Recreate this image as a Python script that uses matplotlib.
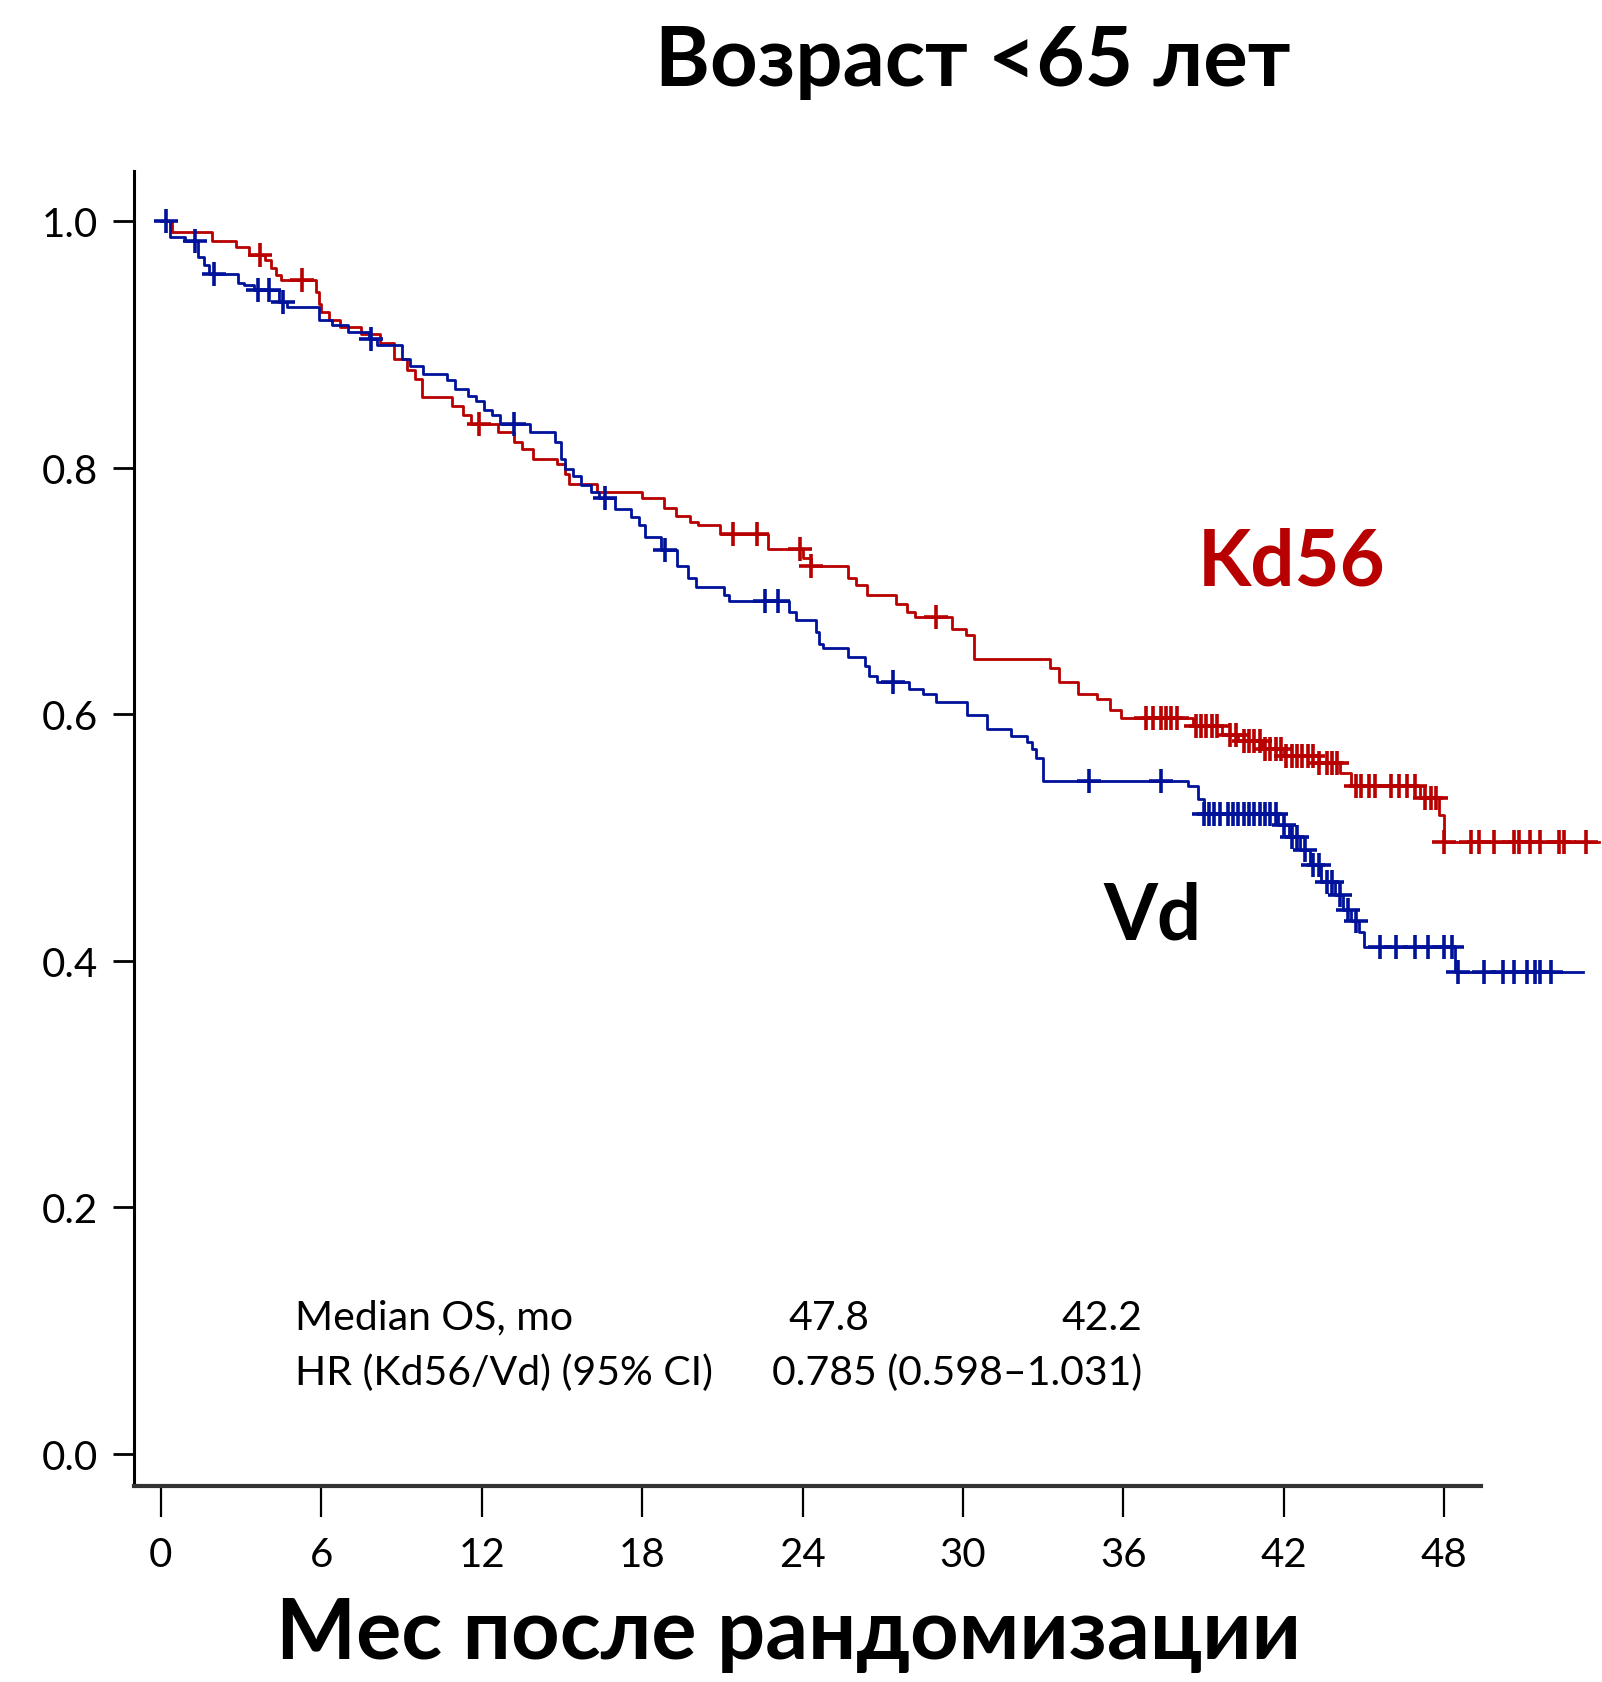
import numpy as np
import matplotlib
matplotlib.use("Agg")
import matplotlib.pyplot as plt

# ========== Data ==========
# Kd56 arm: step times (months) and survival after each step
kd_time = [0, 0.4, 1.9, 2.8, 3.3, 3.9, 4.1, 4.3, 4.5, 5.8, 5.9, 6.0, 6.3, 6.7, 7.5,
           8.2, 8.7, 9.2, 9.5, 9.75, 10.9, 11.3, 11.6, 12.6, 13.2, 13.5, 13.9, 14.8,
           15.1, 15.25, 16.3, 18.0, 18.8, 19.25, 19.8, 20.1, 20.9, 22.7, 24.0, 24.3,
           25.7, 26.0, 26.4, 27.5, 27.9, 28.2, 29.6, 30.1, 30.4, 33.25, 33.6, 34.3,
           35.0, 35.5, 35.9, 38.6, 39.7, 40.3, 41.2, 42.0, 43.3, 44.1, 44.5, 47.1,
           47.8, 48.0, 53.8]
kd_surv = [1.0, 0.991, 0.984, 0.979, 0.972, 0.968, 0.962, 0.956, 0.952, 0.942, 0.933,
           0.926, 0.920, 0.914, 0.908, 0.901, 0.888, 0.879, 0.872, 0.857, 0.850, 0.843,
           0.835, 0.829, 0.821, 0.815, 0.807, 0.803, 0.795, 0.787, 0.780, 0.775, 0.767,
           0.761, 0.756, 0.753, 0.746, 0.734, 0.727, 0.720, 0.710, 0.705, 0.697, 0.689,
           0.683, 0.679, 0.669, 0.664, 0.645, 0.637, 0.626, 0.616, 0.612, 0.603, 0.597,
           0.590, 0.583, 0.578, 0.572, 0.566, 0.560, 0.552, 0.542, 0.532, 0.518, 0.496,
           0.496]
kd_cens = [3.7, 5.27, 11.9, 21.4, 22.3, 23.9, 24.3, 29.0,
           36.85, 37.1, 37.4, 37.6, 37.8, 38.0, 38.7, 38.9, 39.1, 39.3, 39.5, 40.0,
           40.2, 40.5, 40.7, 40.9, 41.1, 41.3, 41.5, 41.7, 41.9, 42.1, 42.3, 42.5,
           42.7, 42.9, 43.1, 43.3, 43.6, 43.8, 44.0, 44.7, 44.9, 45.2, 45.4, 46.0,
           46.3, 46.6, 46.9, 47.3, 47.5, 47.7, 48.0, 49.0, 49.3, 49.85, 50.6, 50.8,
           51.2, 51.6, 52.3, 52.5, 53.3]

# Vd arm
vd_time = [0, 0.35, 0.9, 1.4, 1.6, 1.8, 2.9, 3.1, 3.5, 4.4, 4.7, 5.9, 6.4, 7.0, 7.8,
           8.1, 9.0, 9.3, 9.8, 10.7, 11.0, 11.5, 11.8, 12.1, 12.4, 12.7, 13.8, 14.75,
           14.95, 15.1, 15.4, 15.7, 16.1, 16.4, 17.0, 17.6, 17.9, 18.1, 18.7, 19.3,
           19.7, 20.0, 21.05, 21.25, 23.5, 23.75, 24.5, 24.6, 24.75, 25.7, 26.35,
           26.5, 26.8, 28.0, 28.5, 29.0, 30.15, 30.9, 31.8, 32.4, 32.6, 32.75, 33.0,
           38.4, 38.8, 39.0, 41.8, 42.2, 42.6, 43.0, 43.4, 43.9, 44.2, 44.5, 44.8,
           45.0, 48.4, 53.2]
vd_surv = [1.0, 0.987, 0.984, 0.971, 0.964, 0.957, 0.950, 0.948, 0.944, 0.934, 0.930,
           0.920, 0.916, 0.910, 0.904, 0.899, 0.888, 0.882, 0.876, 0.871, 0.864, 0.858,
           0.854, 0.847, 0.843, 0.835, 0.829, 0.821, 0.807, 0.799, 0.793, 0.786, 0.780,
           0.775, 0.766, 0.760, 0.753, 0.744, 0.733, 0.720, 0.710, 0.703, 0.697, 0.692,
           0.683, 0.676, 0.667, 0.657, 0.654, 0.646, 0.639, 0.631, 0.626, 0.620, 0.616,
           0.610, 0.599, 0.588, 0.582, 0.577, 0.572, 0.564, 0.546, 0.542, 0.531, 0.519,
           0.510, 0.500, 0.490, 0.478, 0.464, 0.453, 0.441, 0.432, 0.423, 0.411, 0.391,
           0.391]
vd_cens = [0.19, 1.26, 1.98, 3.62, 4.04, 4.55, 7.85, 13.2, 16.6, 18.84, 22.6, 23.1,
           27.4, 34.7, 37.4, 39.0, 39.2, 39.4, 39.6, 39.9, 40.1, 40.3, 40.5, 40.7,
           40.9, 41.1, 41.3, 41.5, 41.7, 42.0, 42.3, 42.5, 42.8, 43.1, 43.3, 43.6,
           43.8, 44.1, 44.4, 44.7, 45.6, 46.2, 46.9, 47.4, 48.0, 48.3, 48.5, 49.5,
           50.2, 50.6, 51.1, 51.4, 51.6, 52.0]

x_ticks = [0, 6, 12, 18, 24, 30, 36, 42, 48]
y_ticks = [0.0, 0.2, 0.4, 0.6, 0.8, 1.0]

RED = "#B80000"
BLUE = "#00129A"
FONT = ["Lato", "Open Sans", "DejaVu Sans"]


def surv_at(times, surv, t):
    idx = np.searchsorted(times, t, side="right") - 1
    return np.asarray(surv)[idx]


# ========== Plot ==========
plt.rcParams["font.family"] = FONT
fig = plt.figure(figsize=(16.02, 16.83), dpi=100)
ax = fig.add_axes([0.0836, 0.1165, 0.8409, 0.7813])

for t, s, cens, col in [(kd_time, kd_surv, kd_cens, RED), (vd_time, vd_surv, vd_cens, BLUE)]:
    ax.step(t, s, where="post", color=col, lw=2.0, clip_on=False)
    ax.plot(cens, surv_at(np.array(t), s, np.array(cens)), ls="none", marker="+",
            ms=17, mew=2.6, color=col, clip_on=False)

ax.set_xlim(-1.01, 49.38)
ax.set_ylim(-0.026, 1.0405)
ax.set_xticks(x_ticks)
ax.set_xticklabels([str(v) for v in x_ticks])
ax.set_yticks(y_ticks)
ax.set_yticklabels([f"{v:.1f}" for v in y_ticks])

for side in ["top", "right"]:
    ax.spines[side].set_visible(False)
ax.spines["left"].set_linewidth(2.2)
ax.spines["bottom"].set_linewidth(3.0)
ax.spines["bottom"].set_color("#333333")
ax.tick_params(axis="y", length=15, width=2.0, pad=11, labelsize=29)
ax.tick_params(axis="x", length=22, width=1.6, pad=14, labelsize=29)

# stats text
ax.text(5.0, 0.111, "Median OS, mo", fontsize=29.5, va="center", ha="left")
ax.text(25.0, 0.111, "47.8", fontsize=29.5, va="center", ha="center")
ax.text(35.2, 0.111, "42.2", fontsize=29.5, va="center", ha="center")
ax.text(5.0, 0.0665, "HR (Kd56/Vd) (95% CI)", fontsize=29.5, va="center", ha="left")
ax.text(29.8, 0.0665, "0.785 (0.598\u20131.031)", fontsize=29.5, va="center", ha="center")

# arm labels
ax.text(42.3, 0.7226, "Kd56", fontsize=56, fontweight="bold", color=RED,
        ha="center", va="center")
ax.text(37.1, 0.436, "Vd", fontsize=56, fontweight="bold", color="black",
        ha="center", va="center")

fig.text(0.607, 0.963, "Возраст <65 лет", fontsize=60, fontweight="bold",
         ha="center", va="center")
fig.text(0.4925, 0.014, "Мес после рандомизации", fontsize=61, fontweight="bold",
         ha="center", va="baseline")

fig.savefig("out.png", dpi=100)
